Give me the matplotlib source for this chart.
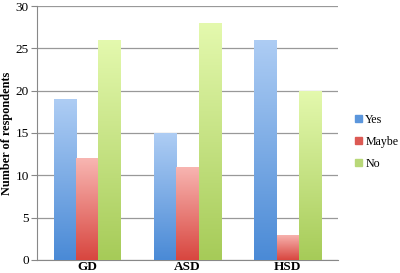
import numpy as np
import matplotlib
matplotlib.use("Agg")
import matplotlib.pyplot as plt
from matplotlib.colors import LinearSegmentedColormap
from matplotlib.patches import Patch

categories = ["GD", "ASD", "HSD"]
series = ["Yes", "Maybe", "No"]
yes_vals = [19, 15, 26]
maybe_vals = [12, 11, 3]
no_vals = [26, 28, 20]

# top (light) / bottom (dark) colours of each gradient
grad = {
    "Yes": ("#aecdf4", "#4a8ad6"),
    "Maybe": ("#f8b6b2", "#d8463f"),
    "No": ("#e4f9ae", "#a6cb58"),
}
legend_col = {"Yes": "#5b96dc", "Maybe": "#dc5a54", "No": "#b8d878"}

plt.rcParams['font.family'] = ['Liberation Serif', 'DejaVu Serif']

fig = plt.figure(figsize=(4.0, 2.73), dpi=100)
ax = fig.add_axes([0.0925, 0.048, 0.7525, 0.93])

x = np.arange(len(categories))
w = 0.222
ymax = 30
for i, (name, vals) in enumerate(zip(series, [yes_vals, maybe_vals, no_vals])):
    top, bot = grad[name]
    cmap = LinearSegmentedColormap.from_list(name, [bot, top])
    bars = ax.bar(x + (i - 1) * w, vals, w, color='none', linewidth=0, zorder=2)
    for b in bars:
        bx, bw, bh = b.get_x(), b.get_width(), b.get_height()
        g = np.linspace(0, 1, 256).reshape(-1, 1)
        im = ax.imshow(g, cmap=cmap, origin='lower', aspect='auto',
                       extent=(bx, bx + bw, 0, bh), zorder=3)
        im.set_clip_path(b)

ax.set_xlim(-0.5, 2.5)
ax.set_ylim(0, ymax)
ax.set_yticks(range(0, 31, 5))
ax.set_xticks(x)
ax.set_xticklabels(categories, fontweight='bold', fontsize=9.5)
ax.tick_params(axis='y', labelsize=9.5, length=4, color='#888888', pad=2)
ax.tick_params(axis='x', length=0, pad=1)
ax.grid(axis='y', color='#999999', linewidth=0.9, zorder=0)
ax.set_axisbelow(True)
for s in ['top', 'right']:
    ax.spines[s].set_visible(False)
ax.spines['left'].set_color('#888888')
ax.spines['bottom'].set_color('#888888')
ax.set_ylabel("Number of respondents", fontweight='bold', fontsize=8.8, labelpad=2)

handles = [Patch(color=legend_col[s], label=s) for s in series]
fig.legend(handles=handles, loc='center left', bbox_to_anchor=(0.888, 0.48),
           frameon=False, prop={'size': 8.6},
           handlelength=0.55, handleheight=0.55, handletextpad=0.3,
           labelspacing=0.85, borderaxespad=0, borderpad=0)

fig.savefig("out.png", dpi=100)
